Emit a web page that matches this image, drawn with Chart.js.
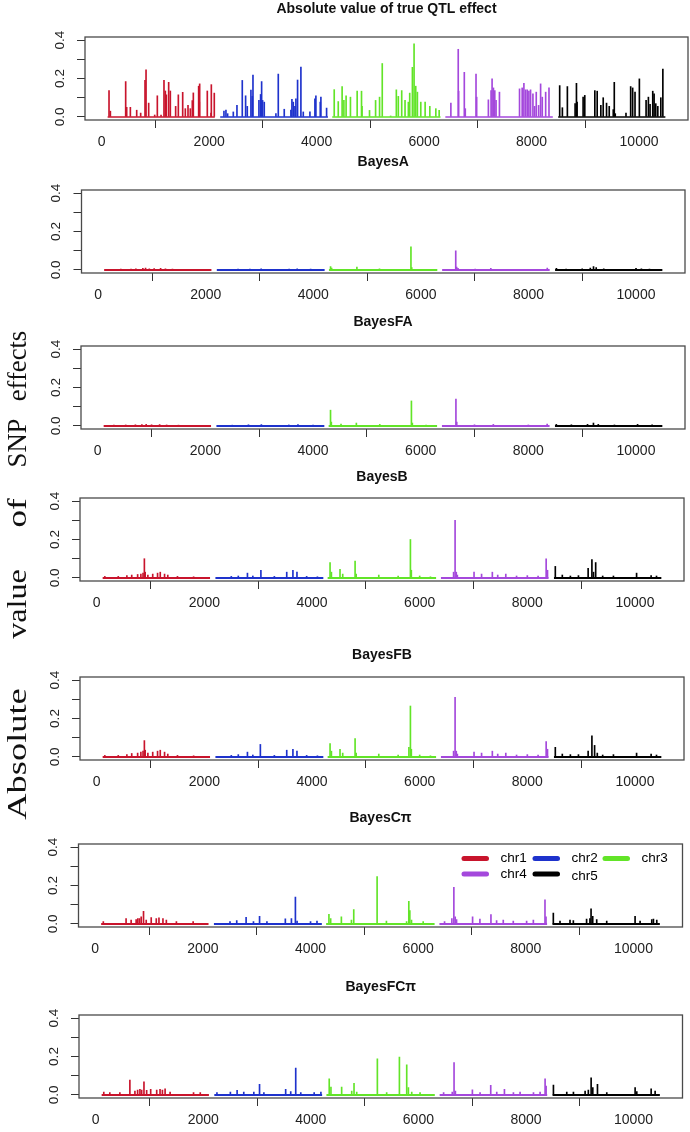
<!DOCTYPE html>
<html><head><meta charset="utf-8">
<script src="https://cdn.jsdelivr.net/npm/chart.js@4.4.1/dist/chart.umd.min.js"></script>
<style>
html,body{margin:0;padding:0;background:#fff;}
body{width:690px;height:1132px;position:relative;overflow:hidden;}
canvas{position:absolute;left:0;}
.ylab{position:absolute;left:17px;font-family:'Liberation Serif',serif;font-size:28px;white-space:nowrap;color:#111;line-height:1;}
</style></head><body>
<script>
// ---------- data ----------
const chromosomes = ['chr1','chr2','chr3','chr4','chr5'];
const chrStart = [110, 2205, 4290, 6395, 8495];
const chrEnd   = [2105, 4210, 6305, 8395, 10490];
const panelTitles = ['Absolute value of true QTL effect','BayesA','BayesFA','BayesB','BayesFB','BayesC\u03c0','BayesFC\u03c0'];
const xTickValues = [0,2000,4000,6000,8000,10000];
const xTickLabels = ['0','2000','4000','6000','8000','10000'];
const yTickValues = [0,0.1,0.2,0.3,0.4];
const yTickLabels = ['0.0','','0.2','','0.4'];
const yAxisTitleWords = ['Absolute','value','of','SNP','effects'];

// [position, |effect|] per chromosome
const trueQTL = [
 [[136,0.137],[161,0.03],[446,0.184],[465,0.05],[533,0.05],[651,0.035],[725,0.02],[806,0.19],[825,0.245],[874,0.072],[986,0.01],[1035,0.11],[1104,0.01],[1159,0.19],[1184,0.135],[1203,0.115],[1246,0.18],[1277,0.135],[1376,0.055],[1426,0.115],[1507,0.128],[1556,0.043],[1606,0.06],[1649,0.043],[1686,0.085],[1705,0.125],[1804,0.16],[1817,0.077],[1823,0.172],[1965,0.135],[2034,0.02],[2040,0.168],[2095,0.124]],
 [[2275,0.03],[2312,0.035],[2343,0.017],[2449,0.026],[2517,0.06],[2616,0.19],[2678,0.11],[2709,0.055],[2777,0.14],[2802,0.107],[2815,0.218],[2926,0.086],[2957,0.117],[2976,0.184],[2994,0.086],[3025,0.077],[3242,0.017],[3286,0.223],[3397,0.04],[3521,0.035],[3540,0.091],[3565,0.077],[3596,0.055],[3614,0.094],[3645,0.192],[3707,0.26],[3751,0.026],[3875,0.026],[3968,0.094],[3986,0.11],[4067,0.077],[4079,0.103],[4185,0.046]],
 [[4327,0.142],[4402,0.08],[4474,0.158],[4507,0.086],[4548,0.11],[4629,0.103],[4754,0.134],[4835,0.134],[4845,0.055],[4984,0.034],[5097,0.086],[5171,0.103],[5221,0.278],[5377,0.005],[5483,0.141],[5520,0.107],[5583,0.137],[5645,0.086],[5707,0.077],[5732,0.124],[5782,0.258],[5813,0.381],[5844,0.16],[5875,0.129],[5938,0.077],[6019,0.077],[6106,0.055],[6218,0.043],[6280,0.034]],
 [[6498,0.072],[6635,0.352],[6642,0.134],[6748,0.232],[6766,0.043],[6966,0.223],[6978,0.103],[7196,0.089],[7246,0.137],[7265,0.198],[7290,0.151],[7315,0.137],[7339,0.086],[7402,0.129],[7776,0.146],[7825,0.151],[7857,0.175],[7888,0.141],[7919,0.141],[7950,0.134],[7981,0.141],[8025,0.12],[8056,0.055],[8087,0.129],[8131,0.06],[8168,0.172],[8199,0.103],[8262,0.129],[8324,0.151]],
 [[8523,0.163],[8573,0.048],[8666,0.158],[8810,0.069],[8835,0.175],[8847,0.077],[8959,0.103],[8990,0.112],[9177,0.137],[9221,0.134],[9289,0.06],[9333,0.1],[9395,0.072],[9445,0.055],[9520,0.038],[9539,0.18],[9557,0.017],[9757,0.02],[9844,0.158],[9881,0.151],[9925,0.129],[10006,0.198],[10131,0.086],[10174,0.103],[10205,0.065],[10255,0.134],[10280,0.12],[10311,0.069],[10349,0.055],[10405,0.1],[10443,0.249]]
];
const bayesA = [
 [[420,0.004],[610,0.005],[700,0.006],[830,0.008],[880,0.009],[950,0.006],[1040,0.007],[1160,0.008],[1250,0.006],[1380,0.005]],
 [[2600,0.004],[2820,0.005],[3030,0.006],[3550,0.004],[3700,0.006],[3950,0.004]],
 [[4320,0.018],[4340,0.01],[4810,0.015],[5230,0.006],[5815,0.12],[5830,0.012]],
 [[6648,0.1],[6665,0.015],[6690,0.008],[7010,0.005],[7300,0.008],[8350,0.01]],
 [[8520,0.008],[8700,0.005],[9000,0.006],[9150,0.01],[9210,0.018],[9260,0.012],[9400,0.006],[10000,0.008],[10100,0.006],[10250,0.005]]
];
const bayesFA = [
 [[300,0.004],[520,0.005],[700,0.006],[820,0.007],[900,0.008],[1000,0.006],[1150,0.007],[1280,0.005],[1500,0.004]],
 [[2500,0.004],[2800,0.006],[3040,0.007],[3550,0.005],[3720,0.007],[4000,0.004]],
 [[4325,0.082],[4340,0.02],[4520,0.01],[4805,0.015],[5240,0.008],[5828,0.13],[5845,0.015],[6100,0.005]],
 [[6655,0.14],[6670,0.02],[7000,0.006],[7350,0.008],[8000,0.005],[8350,0.01]],
 [[8520,0.008],[8800,0.006],[9100,0.008],[9210,0.015],[9300,0.008],[9600,0.005],[10030,0.008],[10300,0.006]]
];
const bayesB = [
 [[150,0.008],[400,0.008],[560,0.012],[650,0.015],[760,0.018],[820,0.02],[860,0.025],[885,0.1],[900,0.03],[950,0.015],[1040,0.02],[1130,0.025],[1180,0.03],[1260,0.02],[1320,0.015],[1500,0.008],[1800,0.006]],
 [[2500,0.008],[2630,0.01],[2800,0.025],[2900,0.01],[3050,0.04],[3300,0.008],[3530,0.03],[3645,0.04],[3720,0.03],[3900,0.008],[4100,0.006]],
 [[4335,0.08],[4360,0.03],[4520,0.045],[4570,0.02],[4800,0.088],[4820,0.02],[5240,0.015],[5600,0.01],[5828,0.2],[5845,0.04],[6000,0.01],[6200,0.006]],
 [[6630,0.03],[6658,0.3],[6680,0.03],[6700,0.015],[7010,0.03],[7150,0.02],[7350,0.03],[7450,0.015],[7600,0.02],[7800,0.01],[8000,0.012],[8200,0.01],[8350,0.1],[8375,0.04]],
 [[8520,0.06],[8650,0.015],[8800,0.01],[8950,0.012],[9130,0.05],[9200,0.095],[9230,0.03],[9270,0.08],[9400,0.01],[9600,0.01],[10030,0.025],[10300,0.012],[10400,0.01]]
];
const bayesFB = [
 [[150,0.008],[400,0.008],[560,0.012],[650,0.018],[760,0.02],[820,0.025],[860,0.03],[885,0.085],[900,0.035],[950,0.02],[1040,0.025],[1130,0.03],[1180,0.035],[1260,0.025],[1320,0.015],[1500,0.008],[1800,0.006]],
 [[2500,0.008],[2630,0.012],[2800,0.025],[2900,0.01],[3040,0.065],[3300,0.008],[3530,0.035],[3645,0.04],[3720,0.03],[3900,0.008],[4100,0.006]],
 [[4335,0.07],[4360,0.03],[4520,0.04],[4570,0.02],[4800,0.095],[4820,0.02],[5240,0.015],[5600,0.01],[5800,0.05],[5828,0.265],[5845,0.04],[6000,0.01],[6200,0.006]],
 [[6630,0.03],[6658,0.31],[6680,0.03],[6700,0.015],[7010,0.025],[7150,0.02],[7350,0.03],[7450,0.015],[7600,0.02],[7800,0.01],[8000,0.012],[8200,0.01],[8350,0.08],[8375,0.04]],
 [[8520,0.05],[8650,0.015],[8800,0.012],[8950,0.012],[9130,0.03],[9200,0.11],[9250,0.06],[9300,0.02],[9400,0.01],[9600,0.012],[10030,0.02],[10300,0.015],[10400,0.01]]
];
const bayesCpi = [
 [[150,0.012],[573,0.028],[667,0.02],[760,0.023],[791,0.028],[822,0.028],[854,0.037],[897,0.065],[947,0.02],[1040,0.033],[1134,0.028],[1184,0.032],[1258,0.028],[1321,0.02],[1508,0.012],[1819,0.012]],
 [[2504,0.012],[2629,0.017],[2803,0.034],[2940,0.012],[3053,0.04],[3190,0.012],[3532,0.027],[3645,0.028],[3719,0.14],[3750,0.015],[4000,0.012],[4120,0.015]],
 [[4342,0.05],[4374,0.028],[4573,0.037],[4760,0.02],[4803,0.075],[5237,0.246],[5410,0.015],[5785,0.012],[5826,0.117],[5845,0.07],[5876,0.02],[6093,0.012]],
 [[6490,0.012],[6626,0.028],[6663,0.19],[6688,0.037],[6713,0.023],[7011,0.037],[7147,0.025],[7352,0.049],[7457,0.017],[7581,0.02],[7767,0.015],[8015,0.015],[8140,0.02],[8356,0.126],[8375,0.037]],
 [[8511,0.057],[8635,0.015],[8821,0.02],[8883,0.017],[9129,0.025],[9191,0.028],[9212,0.079],[9243,0.04],[9317,0.023],[9503,0.015],[10030,0.04],[10123,0.015],[10340,0.023],[10371,0.025],[10433,0.02]]
];
const bayesFCpi = [
 [[150,0.015],[262,0.012],[449,0.012],[635,0.077],[729,0.02],[779,0.025],[822,0.029],[854,0.025],[897,0.068],[947,0.024],[1022,0.029],[1134,0.025],[1196,0.029],[1240,0.025],[1290,0.032],[1383,0.015],[1819,0.012],[1944,0.012]],
 [[2254,0.012],[2504,0.015],[2629,0.024],[2753,0.015],[2940,0.015],[3046,0.055],[3127,0.012],[3532,0.029],[3626,0.017],[3719,0.14],[3813,0.012],[4062,0.012],[4187,0.015]],
 [[4342,0.084],[4374,0.041],[4573,0.041],[4760,0.02],[4803,0.06],[4853,0.015],[5237,0.188],[5410,0.012],[5647,0.197],[5783,0.157],[5814,0.038],[5876,0.015],[6031,0.012]],
 [[6469,0.012],[6630,0.015],[6663,0.169],[6688,0.02],[7004,0.026],[7147,0.012],[7345,0.05],[7457,0.015],[7600,0.029],[7767,0.012],[7891,0.015],[8140,0.012],[8263,0.015],[8356,0.084],[8375,0.046]],
 [[8511,0.051],[8759,0.015],[8883,0.015],[9100,0.02],[9160,0.025],[9212,0.089],[9243,0.038],[9330,0.055],[9503,0.012],[10030,0.038],[10061,0.017],[10328,0.032],[10402,0.02]]
];
const panelSpikes = [trueQTL, bayesA, bayesFA, bayesB, bayesFB, bayesCpi, bayesFCpi];

// ---------- styling / layout ----------
const chrColors = ['#c8142c','#1e32cc','#62e428','#a448dc','#000000'];
const panelBoxes = [
  {left:85, right:688, top:37, bottom:120, tgap:28},
  {left:81.5, right:685, top:190, bottom:273, tgap:28},
  {left:81, right:685, top:346, bottom:429, tgap:24},
  {left:80, right:684, top:498, bottom:581, tgap:21},
  {left:80, right:684, top:677, bottom:760, tgap:22},
  {left:78.5, right:682.5, top:843.5, bottom:926.5, tgap:26},
  {left:79, right:682.5, top:1015, bottom:1098, tgap:28}
];
const X_MIN=-311, X_MAX=10911, Y_MIN=-0.016, Y_MAX=0.416;
const TOPPAD=50, XAXIS_H=35, YAXIS_W=30;
const SANS='"Liberation Sans", Arial, sans-serif';

const decorPlugin = {
  id:'decor',
  afterDraw(chart, args, opts){
    const ctx=chart.ctx, a=chart.chartArea;
    ctx.save();
    ctx.strokeStyle='#4a4a4a'; ctx.lineWidth=1.3;
    ctx.strokeRect(a.left, a.top, a.right-a.left, a.bottom-a.top);
    ctx.fillStyle='#111'; ctx.font='bold 14px '+SANS;
    ctx.textAlign='center'; ctx.textBaseline='middle';
    ctx.fillText(opts.title, (a.left+a.right)/2, a.top-opts.tgap);
    const ys=chart.scales.y;
    ctx.font='13.5px '+SANS; ctx.fillStyle='#222';
    yTickValues.forEach((v,i)=>{
      const lab=yTickLabels[i]; if(!lab) return;
      const py=ys.getPixelForValue(v);
      ctx.save(); ctx.translate(a.left-25, py); ctx.rotate(-Math.PI/2);
      ctx.fillText(lab,0,0); ctx.restore();
    });
    if(opts.legend){
      const cols=[-221,-150,-80], txt=[-182,-111,-41], rows=[14.5,30];
      ctx.font='13.5px '+SANS; ctx.textAlign='left'; ctx.fillStyle='#000';
      ctx.lineCap='round'; ctx.lineWidth=5;
      chromosomes.forEach((c,i)=>{
        const r=Math.floor(i/3), k=i%3;
        const y=a.top+rows[r];
        ctx.strokeStyle=chrColors[i];
        ctx.beginPath(); ctx.moveTo(a.right+cols[k]+2.5,y); ctx.lineTo(a.right+cols[k]+25,y); ctx.stroke();
        ctx.fillText(c, a.right+txt[k], y+(i===4?2.5:0));
      });
    }
    ctx.restore();
  }
};

function buildDatasets(spikes, base){
  const ds=[];
  chromosomes.forEach((c,i)=>{
    ds.push({type:'line', label:c+' base', data:[{x:chrStart[i],y:0},{x:chrEnd[i],y:0}],
      borderColor:chrColors[i], borderWidth:base, pointRadius:0, order:2});
    ds.push({type:'bar', label:c, data:spikes[i].map(p=>({x:p[0],y:p[1]})),
      backgroundColor:chrColors[i], borderWidth:0, barThickness:1, grouped:false, order:1});
  });
  return ds;
}

panelBoxes.forEach((g,pi)=>{
  const cv=document.createElement('canvas');
  const h=Math.round(TOPPAD+(g.bottom-g.top)+XAXIS_H);
  cv.width=690; cv.height=h;
  cv.style.top=(g.top-TOPPAD)+'px';
  cv.style.width='690px'; cv.style.height=h+'px';
  document.body.appendChild(cv);
  new Chart(cv,{
    type:'bar',
    data:{datasets:buildDatasets(panelSpikes[pi], pi===0?1.4:2)},
    plugins:[decorPlugin],
    options:{
      animation:false, responsive:false, devicePixelRatio:1,
      layout:{padding:{left:g.left-YAXIS_W, right:690-g.right, top:TOPPAD, bottom:h-TOPPAD-(g.bottom-g.top)-XAXIS_H}},
      plugins:{legend:{display:false}, tooltip:{enabled:false}, title:{display:false},
        decor:{title:panelTitles[pi], legend:pi===5, tgap:g.tgap}},
      scales:{
        x:{type:'linear', min:X_MIN, max:X_MAX, offset:false,
          afterBuildTicks:s=>{s.ticks=xTickValues.map(v=>({value:v}));},
          afterFit:s=>{s.height=XAXIS_H;},
          grid:{drawOnChartArea:false, tickLength:8, color:'#333', lineWidth:1},
          border:{display:false},
          ticks:{font:{family:SANS, size:14}, color:'#222', padding:6, maxRotation:0, autoSkip:false,
            callback:(v,i)=>xTickLabels[i]}},
        y:{type:'linear', min:Y_MIN, max:Y_MAX,
          afterBuildTicks:s=>{s.ticks=yTickValues.map(v=>({value:v}));},
          afterFit:s=>{s.width=YAXIS_W;},
          grid:{drawOnChartArea:false, tickLength:8, color:'#333', lineWidth:1},
          border:{display:false},
          ticks:{display:false}}
      }
    }
  });
});

const wordCenters=[754,604,513,443,366];
const wordStretch=[1.3,1.15,1.25,0.95,0.95];
yAxisTitleWords.forEach((w,i)=>{
  const d=document.createElement('div');
  d.className='ylab'; d.textContent=w; d.style.top=wordCenters[i]+'px';
  d.style.transform='translate(-50%,-50%) rotate(-90deg) scaleX('+wordStretch[i]+')';
  document.body.appendChild(d);
});
</script></body></html>
